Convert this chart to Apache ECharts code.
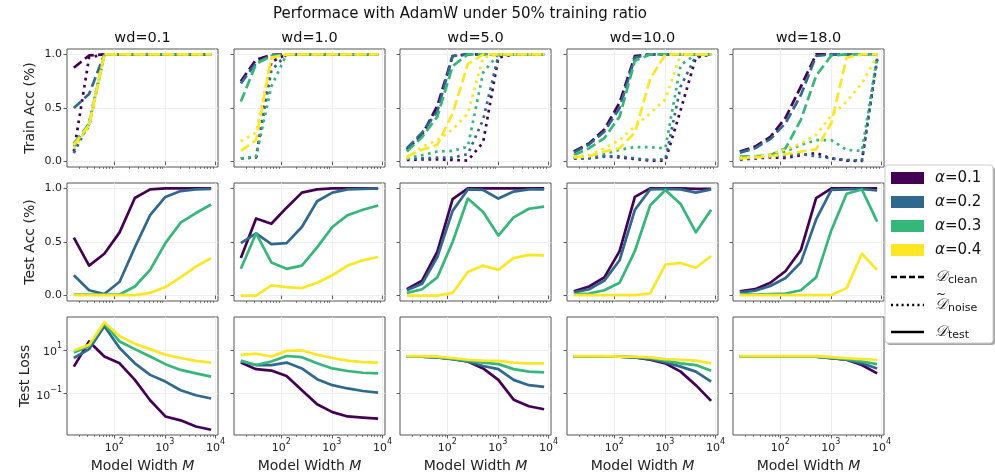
<!DOCTYPE html>
<html>
<head>
<meta charset="utf-8">
<script src="https://cdn.jsdelivr.net/npm/echarts@6/dist/echarts.min.js"></script>
<style>
  html, body { margin: 0; padding: 0; background: #ffffff; }
  #chart { width: 995px; height: 473px; }
</style>
</head>
<body>
<div id="chart"></div>
<script>
// ---- data -------------------------------------------------------------
const widths = [16, 32, 64, 128, 256, 512, 1024, 2048, 4096, 8192];
const weightDecays = ['0.1', '1.0', '5.0', '10.0', '18.0'];
const alphaValues = ['0.1', '0.2', '0.3', '0.4'];
const alphaColors = ['#440154', '#31688e', '#35b779', '#fde725'];
const widthTicks = [100, 1000, 10000];
const accTicks = [0, 0.5, 1];
const lossTicks = [0.1, 10];

// train accuracy on the clean part of the training set (rows: alpha 0.1..0.4)
const trainClean_wd0_1 = [
  [0.875, 0.99, 1, 1, 1, 1, 1, 1, 1, 1],
  [0.50, 0.63, 1, 1, 1, 1, 1, 1, 1, 1],
  [0.17, 0.35, 1, 1, 1, 1, 1, 1, 1, 1],
  [0.156, 0.34, 1, 1, 1, 1, 1, 1, 1, 1]
];
const trainClean_wd1_0 = [
  [0.75, 0.95, 0.995, 1, 1, 1, 1, 1, 1, 1],
  [0.73, 0.92, 0.99, 1, 1, 1, 1, 1, 1, 1],
  [0.56, 0.91, 0.985, 1, 1, 1, 1, 1, 1, 1],
  [0.10, 0.20, 0.97, 1, 1, 1, 1, 1, 1, 1]
];
const trainClean_wd5_0 = [
  [0.11, 0.25, 0.52, 0.985, 1, 1, 1, 1, 1, 1],
  [0.125, 0.27, 0.47, 0.985, 1, 1, 1, 1, 1, 1],
  [0.094, 0.23, 0.42, 0.89, 1, 1, 1, 1, 1, 1],
  [0.047, 0.11, 0.156, 0.45, 0.91, 1, 1, 1, 1, 1]
];
const trainClean_wd10_0 = [
  [0.094, 0.17, 0.30, 0.55, 0.985, 1, 1, 1, 1, 1],
  [0.084, 0.16, 0.28, 0.50, 0.97, 1, 1, 1, 1, 1],
  [0.06, 0.125, 0.22, 0.42, 0.94, 1, 1, 1, 1, 1],
  [0.04, 0.05, 0.094, 0.125, 0.27, 0.77, 1, 1, 1, 1]
];
const trainClean_wd18_0 = [
  [0.094, 0.14, 0.23, 0.41, 0.70, 1, 1, 1, 1, 1],
  [0.084, 0.125, 0.21, 0.36, 0.62, 0.985, 1, 1, 1, 1],
  [0.047, 0.05, 0.06, 0.125, 0.39, 0.80, 0.99, 1, 1, 1],
  [0.03, 0.04, 0.05, 0.07, 0.094, 0.115, 0.36, 0.97, 1, 1]
];

// train accuracy on the noisy part of the training set
const trainNoise_wd0_1 = [
  [0.094, 0.97, 1, 1, 1, 1, 1, 1, 1, 1],
  [0.08, 0.36, 1, 1, 1, 1, 1, 1, 1, 1],
  [0.14, 0.33, 1, 1, 1, 1, 1, 1, 1, 1],
  [0.12, 0.33, 1, 1, 1, 1, 1, 1, 1, 1]
];
const trainNoise_wd1_0 = [
  [0.03, 0.04, 0.93, 1, 1, 1, 1, 1, 1, 1],
  [0.03, 0.04, 0.85, 1, 1, 1, 1, 1, 1, 1],
  [0.03, 0.05, 0.70, 1, 1, 1, 1, 1, 1, 1],
  [0.19, 0.27, 0.97, 1, 1, 1, 1, 1, 1, 1]
];
const trainNoise_wd5_0 = [
  [0.016, 0.02, 0.02, 0.016, 0.01, 0.18, 0.97, 1, 1, 1],
  [0.025, 0.03, 0.037, 0.037, 0.07, 0.39, 0.99, 1, 1, 1],
  [0.03, 0.06, 0.094, 0.10, 0.14, 0.83, 1, 1, 1, 1],
  [0.03, 0.14, 0.20, 0.30, 0.45, 0.97, 1, 1, 1, 1]
];
const trainNoise_wd10_0 = [
  [0.03, 0.035, 0.05, 0.04, 0.025, 0.01, 0.01, 0.48, 0.97, 1],
  [0.03, 0.03, 0.047, 0.05, 0.03, 0.016, 0.02, 0.70, 0.985, 1],
  [0.047, 0.05, 0.07, 0.11, 0.135, 0.135, 0.125, 0.90, 1, 1],
  [0.047, 0.06, 0.125, 0.20, 0.33, 0.45, 0.58, 1, 1, 1]
];
const trainNoise_wd18_0 = [
  [0.02, 0.03, 0.04, 0.035, 0.06, 0.08, 0.03, 0.01, 0.006, 0.95],
  [0.03, 0.035, 0.05, 0.05, 0.07, 0.05, 0.03, 0.016, 0.01, 0.96],
  [0.03, 0.047, 0.06, 0.094, 0.156, 0.20, 0.20, 0.11, 0.10, 0.97],
  [0.035, 0.047, 0.07, 0.115, 0.17, 0.25, 0.43, 0.56, 0.73, 0.985]
];

// test accuracy
const testAcc_wd0_1 = [
  [0.54, 0.28, 0.39, 0.59, 0.91, 0.99, 1, 1, 1, 1],
  [0.19, 0.05, 0.015, 0.13, 0.45, 0.75, 0.92, 0.975, 0.99, 0.995],
  [0.01, 0.01, 0.01, 0.01, 0.085, 0.24, 0.49, 0.68, 0.77, 0.85],
  [0.005, 0.005, 0.005, 0.005, 0.005, 0.025, 0.08, 0.17, 0.27, 0.35]
];
const testAcc_wd1_0 = [
  [0.35, 0.72, 0.67, 0.82, 0.96, 0.99, 1, 1, 1, 1],
  [0.49, 0.58, 0.48, 0.49, 0.64, 0.88, 0.96, 0.99, 0.995, 1],
  [0.25, 0.58, 0.31, 0.25, 0.28, 0.45, 0.64, 0.75, 0.80, 0.84],
  [0.0, 0.0, 0.095, 0.08, 0.07, 0.12, 0.19, 0.28, 0.33, 0.36]
];
const testAcc_wd5_0 = [
  [0.06, 0.14, 0.41, 0.90, 1, 1, 1, 1, 1, 1],
  [0.05, 0.11, 0.36, 0.79, 0.99, 0.985, 0.905, 0.97, 0.99, 0.99],
  [0.025, 0.06, 0.17, 0.50, 0.905, 0.78, 0.56, 0.73, 0.81, 0.83],
  [0.0, 0.0, 0.0, 0.025, 0.22, 0.28, 0.24, 0.35, 0.38, 0.375]
];
const testAcc_wd10_0 = [
  [0.04, 0.085, 0.17, 0.415, 0.92, 1, 1, 1, 0.995, 0.995],
  [0.03, 0.06, 0.14, 0.33, 0.80, 0.99, 0.995, 0.99, 0.96, 0.99],
  [0.015, 0.02, 0.05, 0.12, 0.415, 0.84, 0.985, 0.855, 0.59, 0.80],
  [0.005, 0.005, 0.005, 0.005, 0.005, 0.02, 0.29, 0.305, 0.26, 0.37]
];
const testAcc_wd18_0 = [
  [0.04, 0.06, 0.12, 0.23, 0.425, 0.91, 1, 1, 1, 1],
  [0.03, 0.047, 0.09, 0.165, 0.31, 0.71, 0.985, 0.99, 0.995, 0.98],
  [0.015, 0.01, 0.015, 0.02, 0.05, 0.17, 0.61, 0.95, 0.99, 0.69],
  [0.005, 0.005, 0.005, 0.005, 0.005, 0.005, 0.005, 0.07, 0.39, 0.24]
];

// test loss (log scale)
const testLoss_wd0_1 = [
  [1.7, 24, 4.9, 2.4, 0.42, 0.049, 0.0089, 0.0059, 0.0031, 0.0022],
  [4.2, 10.7, 120, 12, 2.4, 0.71, 0.35, 0.14, 0.083, 0.059],
  [7.6, 15, 158, 24, 10.7, 4.9, 2.2, 1.2, 0.83, 0.59],
  [9.3, 17, 182, 42, 19, 10.7, 5.9, 4.2, 3.1, 2.6]
];
const testLoss_wd1_0 = [
  [2.6, 1.3, 1.12, 0.63, 0.14, 0.032, 0.014, 0.0089, 0.0079, 0.0071],
  [2.9, 2.0, 2.0, 2.6, 1.4, 0.45, 0.24, 0.17, 0.13, 0.11],
  [3.2, 2.0, 2.9, 5.2, 4.6, 2.4, 1.4, 1.07, 0.89, 0.83],
  [5.9, 6.6, 4.9, 8.9, 9.3, 5.9, 4.2, 3.2, 2.7, 2.6]
];
const testLoss_wd5_0 = [
  [4.9, 4.8, 4.5, 3.7, 2.9, 1.4, 0.42, 0.052, 0.026, 0.019],
  [4.9, 4.8, 4.5, 3.8, 2.9, 1.8, 1.3, 0.42, 0.24, 0.20],
  [4.9, 4.8, 4.6, 3.8, 3.2, 2.6, 2.2, 1.3, 1.0, 0.93],
  [5.1, 5.1, 4.9, 4.2, 3.5, 3.2, 3.1, 2.6, 2.4, 2.4]
];
const testLoss_wd10_0 = [
  [4.9, 4.9, 4.9, 4.8, 4.5, 3.5, 2.4, 1.0, 0.24, 0.046],
  [4.9, 4.9, 4.9, 4.8, 4.5, 3.7, 2.7, 1.7, 1.0, 0.35],
  [4.9, 4.9, 4.9, 4.8, 4.6, 4.2, 3.2, 2.4, 2.0, 1.1],
  [5.1, 5.1, 5.1, 4.9, 4.8, 4.5, 3.7, 3.5, 3.2, 2.4]
];
const testLoss_wd18_0 = [
  [4.9, 4.9, 4.9, 4.9, 4.9, 4.8, 4.1, 3.5, 2.0, 0.83],
  [4.9, 4.9, 4.9, 4.9, 4.9, 4.8, 4.1, 3.5, 2.4, 1.4],
  [4.9, 4.9, 4.9, 4.9, 4.9, 4.8, 4.4, 3.7, 2.9, 2.2],
  [5.1, 5.1, 5.1, 5.1, 5.1, 5.1, 4.6, 4.1, 3.7, 3.5]
];

const trainClean = [trainClean_wd0_1, trainClean_wd1_0, trainClean_wd5_0, trainClean_wd10_0, trainClean_wd18_0];
const trainNoise = [trainNoise_wd0_1, trainNoise_wd1_0, trainNoise_wd5_0, trainNoise_wd10_0, trainNoise_wd18_0];
const testAcc = [testAcc_wd0_1, testAcc_wd1_0, testAcc_wd5_0, testAcc_wd10_0, testAcc_wd18_0];
const testLoss = [testLoss_wd0_1, testLoss_wd1_0, testLoss_wd5_0, testLoss_wd10_0, testLoss_wd18_0];

// ---- layout -----------------------------------------------------------
const FONT = 'DejaVu Sans';
const colLeft = [67, 234, 400, 567, 733];
const colWidth = 151;
const rowTop = [49, 183, 317];
const rowHeight = 118;
const rowNames = ['Train Acc (%)', 'Test Acc (%)', 'Test Loss'];

const X_MIN = Math.pow(10, 1.069), X_MAX = Math.pow(10, 4.049);
const LOSS_MIN = Math.pow(10, -2.9), LOSS_MAX = Math.pow(10, 2.5);

const minorWidthTicks = [];
for (let k = 1; k <= 3; k++) {
  for (let m = 2; m <= 9; m++) minorWidthTicks.push(m * Math.pow(10, k));
}

const LW = 2.7;
const DASH = [10, 4.3];
const DOT = [2.7, 4.5];
const tickLine = { color: '#333333', width: 0.8 };
const gridLine = { color: '#ebebeb', width: 0.8 };
const supRich = {
  b: { fontSize: 11, fontFamily: FONT, color: '#222', lineHeight: 16, verticalAlign: 'bottom' },
  s: { fontSize: 8, fontFamily: FONT, color: '#222', lineHeight: 9, verticalAlign: 'top' }
};
function powLabel(v) {
  const e = Math.round(Math.log10(v));
  return '{b|10}{s|' + (e < 0 ? '\u2212' + (-e) : e) + '}';
}

const grids = [], xAxes = [], yAxes = [], series = [];

for (let r = 0; r < 3; r++) {
  for (let c = 0; c < 5; c++) {
    const g = r * 5 + c;
    grids.push({
      left: colLeft[c], top: rowTop[r], width: colWidth, height: rowHeight,
      show: true, borderColor: '#555555', borderWidth: 1, backgroundColor: 'transparent',
      containLabel: false, outerBoundsMode: 'none'
    });
    // major width ticks (decades)
    xAxes.push({
      type: 'log', logBase: 10, gridIndex: g, min: X_MIN, max: X_MAX, position: 'bottom',
      axisLine: { show: false },
      axisTick: { show: true, length: 3.5, lineStyle: tickLine, customValues: widthTicks },
      axisLabel: {
        show: r === 2, customValues: widthTicks, formatter: powLabel, rich: supRich, margin: 3
      },
      splitLine: { show: true, lineStyle: gridLine },
      name: r === 2 ? '{n|Model Width }{i|M}' : '',
      nameLocation: 'middle', nameGap: 24,
      nameTextStyle: {
        rich: {
          n: { fontSize: 14, fontFamily: FONT, color: '#222' },
          i: { fontSize: 14, fontFamily: FONT, color: '#222', fontStyle: 'italic' }
        }
      }
    });
    // minor width ticks
    xAxes.push({
      type: 'log', logBase: 10, gridIndex: g, min: X_MIN, max: X_MAX, position: 'bottom',
      axisLine: { show: false },
      axisTick: { show: true, length: 2, lineStyle: { color: '#333333', width: 0.6 }, customValues: minorWidthTicks },
      axisLabel: { show: false },
      splitLine: { show: false }
    });
    const yName = c === 0 ? rowNames[r] : '';
    const yNameStyle = { fontSize: 14, fontFamily: FONT, color: '#222' };
    if (r < 2) {
      yAxes.push({
        type: 'value', gridIndex: g, min: -0.05, max: 1.05,
        axisLine: { show: false },
        axisTick: { show: true, length: 3.5, lineStyle: tickLine, customValues: accTicks },
        axisLabel: {
          show: c === 0, customValues: accTicks, formatter: v => v.toFixed(1),
          fontSize: 11, fontFamily: FONT, color: '#222', margin: 5
        },
        splitLine: { show: true, lineStyle: gridLine },
        name: yName, nameLocation: 'middle', nameRotate: 90, nameGap: 30, nameTextStyle: yNameStyle
      });
    } else {
      yAxes.push({
        type: 'log', logBase: 10, gridIndex: g, min: LOSS_MIN, max: LOSS_MAX,
        axisLine: { show: false },
        axisTick: { show: true, length: 3.5, lineStyle: tickLine, customValues: lossTicks },
        axisLabel: {
          show: c === 0, customValues: lossTicks, formatter: powLabel, rich: supRich, margin: 5
        },
        splitLine: { show: true, lineStyle: gridLine },
        name: yName, nameLocation: 'middle', nameRotate: 90, nameGap: 30, nameTextStyle: yNameStyle
      });
    }

    const lineSeries = (vals, color, dash) => ({
      type: 'line', xAxisIndex: 2 * g, yAxisIndex: g,
      data: widths.map((w, i) => [w, vals[i]]),
      symbol: 'none', showSymbol: false, silent: true, animation: false,
      lineStyle: { color: color, width: LW, type: dash, cap: 'butt', join: 'round' }
    });
    for (let a = 0; a < 4; a++) {
      if (r === 0) {
        series.push(lineSeries(trainClean[c][a], alphaColors[a], DASH));
        series.push(lineSeries(trainNoise[c][a], alphaColors[a], DOT));
      } else if (r === 1) {
        series.push(lineSeries(testAcc[c][a], alphaColors[a], 'solid'));
      } else {
        series.push(lineSeries(testLoss[c][a], alphaColors[a], 'solid'));
      }
    }
  }
}

// ---- titles and legend ------------------------------------------------
const graphics = [];
graphics.push({
  type: 'text', x: 460, y: 14,
  style: { text: 'Performace with AdamW under 50% training ratio', font: '15px "DejaVu Sans"',
           fill: '#111', textAlign: 'center', textVerticalAlign: 'middle' }
});
weightDecays.forEach((wd, c) => {
  graphics.push({
    type: 'text', x: colLeft[c] + colWidth / 2, y: 38,
    style: { text: 'wd=' + wd, font: '14.5px "DejaVu Sans"', fill: '#111',
             textAlign: 'center', textVerticalAlign: 'middle' }
  });
});

const LX = 885, LY = 165, LW_BOX = 108, LH_BOX = 178;
graphics.push({
  type: 'rect', shape: { x: LX + 2, y: LY + 2, width: LW_BOX, height: LH_BOX, r: 3 },
  style: { fill: 'rgba(0,0,0,0.35)' }, z: 50
});
graphics.push({
  type: 'rect', shape: { x: LX, y: LY, width: LW_BOX, height: LH_BOX, r: 3 },
  style: { fill: '#ffffff', stroke: '#cccccc', lineWidth: 1 }, z: 51
});
alphaValues.forEach((val, a) => {
  const cy = 178 + 24 * a;
  graphics.push({
    type: 'rect', shape: { x: 891, y: cy - 6, width: 33, height: 12 },
    style: { fill: alphaColors[a] }, z: 52
  });
  graphics.push({
    type: 'text', x: 935, y: cy,
    style: {
      text: '{a|α}{v|=' + val + '}',
      textVerticalAlign: 'middle',
      rich: {
        a: { font: 'italic 15px "DejaVu Sans"', fill: '#111' },
        v: { font: '15px "DejaVu Sans"', fill: '#111' }
      }
    }, z: 52
  });
});
const styleKeys = [
  { dash: [6, 3], sub: 'clean', y: 277, tilde: false },
  { dash: [2, 3.3], sub: 'noise', y: 305, tilde: true },
  { dash: null, sub: 'test', y: 332, tilde: false }
];
styleKeys.forEach(k => {
  graphics.push({
    type: 'line', shape: { x1: 891, y1: k.y, x2: 924, y2: k.y },
    style: { stroke: '#000', lineWidth: 2.5, lineDash: k.dash }, z: 52
  });
  graphics.push({
    type: 'text', x: 935, y: k.y,
    style: {
      text: '{d|𝒟}{s|' + k.sub + '}',
      textVerticalAlign: 'middle',
      rich: {
        d: { font: 'italic 15px "DejaVu Serif"', fill: '#111', lineHeight: 18, verticalAlign: 'middle' },
        s: { font: '11px "DejaVu Sans"', fill: '#111', lineHeight: 18, verticalAlign: 'bottom', padding: [0, 0, 0, 1] }
      }
    }, z: 52
  });
  if (k.tilde) {
    graphics.push({
      type: 'text', x: 941, y: k.y - 10,
      style: { text: '~', font: '12px "DejaVu Sans"', fill: '#111', textAlign: 'center', textVerticalAlign: 'middle' }, z: 52
    });
  }
});

const chart = echarts.init(document.getElementById('chart'), null, { renderer: 'canvas' });
chart.setOption({
  animation: false,
  backgroundColor: '#ffffff',
  textStyle: { fontFamily: FONT },
  grid: grids,
  xAxis: xAxes,
  yAxis: yAxes,
  series: series,
  graphic: graphics
});
</script>
</body>
</html>
